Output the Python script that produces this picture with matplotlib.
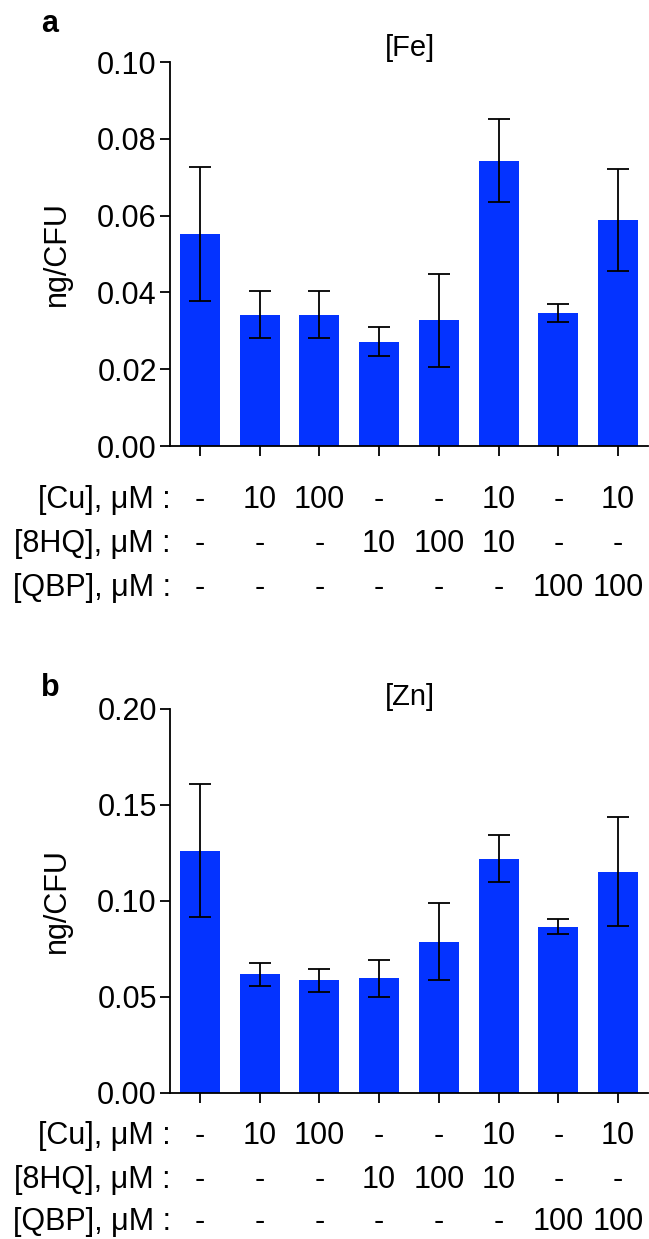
import matplotlib
matplotlib.use('Agg')
import matplotlib.pyplot as plt
from matplotlib.transforms import blended_transform_factory

plt.rcParams['font.family'] = ['Liberation Sans', 'DejaVu Sans']

# data
fe_mean = [0.0552, 0.0342, 0.0342, 0.0272, 0.0327, 0.0743, 0.0347, 0.0589]
fe_err = [0.0175, 0.0062, 0.0062, 0.0038, 0.0120, 0.0108, 0.0023, 0.0133]
zn_mean = [0.1263, 0.0618, 0.0586, 0.0597, 0.0789, 0.1221, 0.0867, 0.1153]
zn_err = [0.0345, 0.0061, 0.0062, 0.0098, 0.0201, 0.0123, 0.0040, 0.0285]

cu = ['-', '10', '100', '-', '-', '10', '-', '10']
hq = ['-', '-', '-', '10', '100', '10', '-', '-']
qbp = ['-', '-', '-', '-', '-', '-', '100', '100']
row_names = ['[Cu], \u03bcM :', '[8HQ], \u03bcM :', '[QBP], \u03bcM :']

fe_ticks = [0.00, 0.02, 0.04, 0.06, 0.08, 0.10]
zn_ticks = [0.00, 0.05, 0.10, 0.15, 0.20]

W, H = 649, 1239
BLUE = '#0433FF'

fig = plt.figure(figsize=(W / 100, H / 100), dpi=100)


def fy(py):
    return 1 - py / H


def panel(top, bottom, means, errs, ticks, title, letter, title_y, letter_y, rows_y):
    ax = fig.add_axes([170 / W, fy(bottom), 478 / W, (bottom - top) / H])
    x = list(range(len(means)))
    ax.bar(x, means, width=0.67, color=BLUE, zorder=2)
    ax.errorbar(x, means, yerr=errs, fmt='none', ecolor='black',
                elinewidth=1.3, capsize=8, capthick=1.3, zorder=3)
    ax.set_xlim(-0.5, 7.5)
    ax.set_ylim(ticks[0], ticks[-1])
    ax.set_yticks(ticks)
    ax.set_yticklabels(['%.2f' % t for t in ticks])
    ax.set_xticks(x)
    ax.set_xticklabels([])
    for s in ['top', 'right']:
        ax.spines[s].set_visible(False)
    for s in ['left', 'bottom']:
        ax.spines[s].set_linewidth(1.3)
    ax.tick_params(axis='both', direction='out', length=7.5, width=1.3,
                   labelsize=22, pad=2)
    ax.set_ylabel('ng/CFU', fontsize=22, labelpad=18)
    fig.text(410 / W, fy(title_y), title, fontsize=21, ha='center', va='center')
    fig.text(50 / W, fy(letter_y), letter, fontsize=22, fontweight='bold',
             ha='center', va='center')
    tr = blended_transform_factory(ax.transData, fig.transFigure)
    for name, vals, ry in zip(row_names, [cu, hq, qbp], rows_y):
        fig.text(171 / W, fy(ry), name, fontsize=22, ha='right', va='center')
        for xi, v in zip(x, vals):
            ax.text(xi, fy(ry), v, fontsize=22, ha='center', va='center',
                    transform=tr, clip_on=False)
    return ax


panel(62, 446, fe_mean, fe_err, fe_ticks, '[Fe]', 'a', 48, 24, [500, 544, 588])
panel(709, 1093, zn_mean, zn_err, zn_ticks, '[Zn]', 'b', 697, 688, [1136, 1180, 1222])

fig.savefig('out.png', dpi=100)
